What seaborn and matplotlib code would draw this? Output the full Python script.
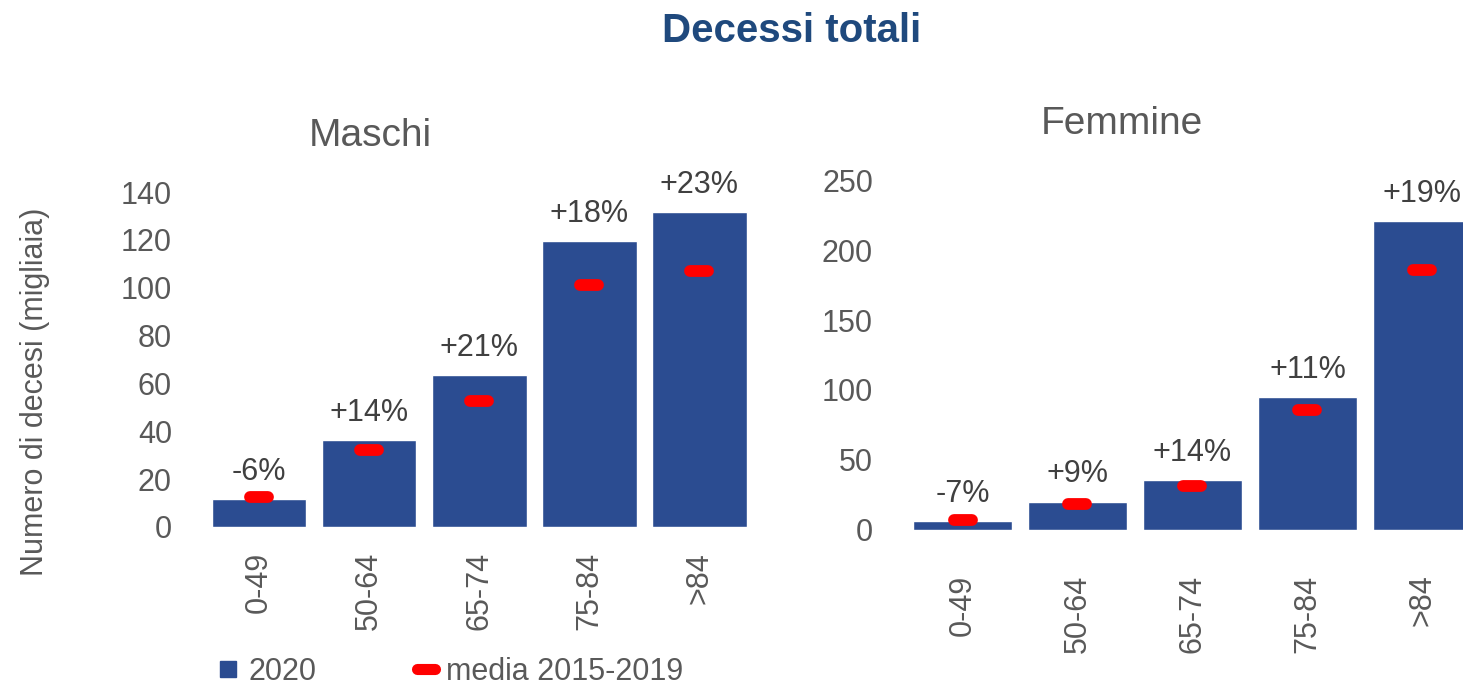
import matplotlib
matplotlib.use('Agg')
import matplotlib.pyplot as plt
import seaborn as sns
from matplotlib.lines import Line2D
from matplotlib.markers import MarkerStyle

ages = ['0-49', '50-64', '65-74', '75-84', '>84']

# Maschi (migliaia)
maschi_2020 = [11.7, 36.3, 63.5, 119.5, 131.6]
maschi_media = [12.5, 32.2, 52.7, 101.2, 107.0]
maschi_pct = ['-6%', '+14%', '+21%', '+18%', '+23%']

# Femmine (migliaia)
femmine_2020 = [6.4, 20.3, 35.5, 95.0, 220.6]
femmine_media = [6.9, 18.6, 31.2, 85.6, 186.0]
femmine_pct = ['-7%', '+9%', '+14%', '+11%', '+19%']

blue = '#2B4C91'
red = '#FF0000'
grey = '#595959'
dark = '#404040'

sns.set_style('white')
plt.rcParams['font.family'] = ['Liberation Sans', 'DejaVu Sans']

fig = plt.figure(figsize=(14.63, 6.85), dpi=100)
ax1 = fig.add_axes([0.1394, 0.2307, 0.3763, 0.489])
ax2 = fig.add_axes([0.6186, 0.2263, 0.393, 0.5109])

red_marker = MarkerStyle('_', capstyle='round')


def draw(ax, vals, media, pct, yticks, xpad):
    sns.barplot(x=ages, y=vals, color=blue, width=0.86, saturation=1, ax=ax)
    ax.plot(range(len(ages)), media, ls='none', marker=red_marker,
            ms=13.5, mew=8.5, color=red, zorder=3)
    for i, (v, t) in enumerate(zip(vals, pct)):
        ax.annotate(t, (i, v), xytext=(0, 14), textcoords='offset points',
                    ha='center', va='baseline', fontsize=22, color=dark,
                    annotation_clip=False)
    ax.set_ylim(yticks[0], yticks[-1])
    ax.set_xlim(-0.5, len(ages) - 0.5)
    ax.set_yticks(yticks)
    ax.tick_params(axis='y', length=0, pad=23, labelsize=22, labelcolor=grey)
    ax.tick_params(axis='x', length=0, pad=xpad, labelsize=22, labelcolor=grey,
                   labelrotation=90)
    ax.set_xlabel('')
    ax.set_ylabel('')
    sns.despine(ax=ax, left=True, bottom=True)


draw(ax1, maschi_2020, maschi_media, maschi_pct, list(range(0, 141, 20)), 18)
draw(ax2, femmine_2020, femmine_media, femmine_pct, list(range(0, 251, 50)), 32)

fig.text(792 / 1463, 1 - 31 / 685, 'Decessi totali', ha='center', va='center',
         fontsize=29, fontweight='bold', color='#1F497D')
fig.text(370 / 1463, 1 - 136 / 685, 'Maschi', ha='center', va='center',
         fontsize=28, color=grey)
fig.text(1122 / 1463, 1 - 124 / 685, 'Femmine', ha='center', va='center',
         fontsize=28, color=grey)
fig.text(35 / 1463, 1 - 392 / 685, 'Numero di decesi (migliaia)', rotation=90,
         ha='center', va='center', fontsize=22, color=grey)

handles = [
    Line2D([], [], ls='none', marker='s', ms=12, color=blue),
    Line2D([], [], ls='none', marker=red_marker, ms=13, mew=8, color=red),
]
leg = fig.legend(handles, ['2020', 'media 2015-2019'], loc='center left',
                 bbox_to_anchor=(216 / 1463, 1 - 672 / 685), ncol=2,
                 frameon=False, fontsize=22, handlelength=0.8,
                 handletextpad=0.25, columnspacing=3.2, borderpad=0,
                 borderaxespad=0)
for t in leg.get_texts():
    t.set_color(grey)

fig.savefig('out.png', dpi=100)
